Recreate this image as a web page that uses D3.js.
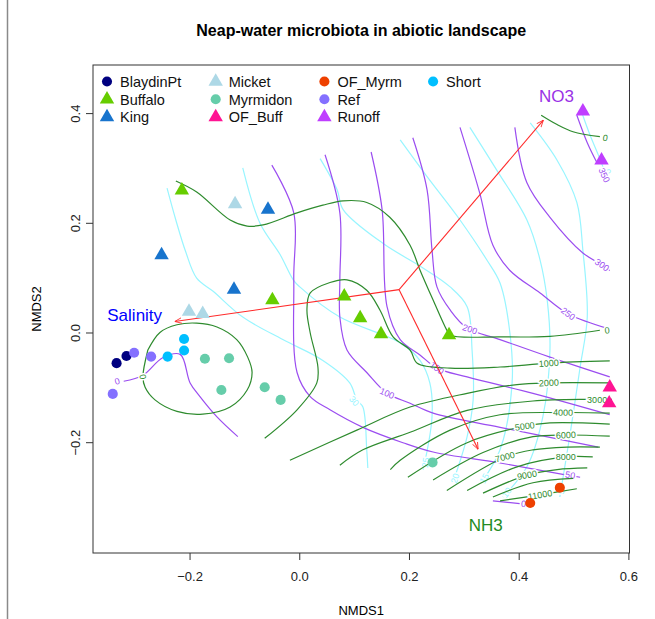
<!DOCTYPE html>
<html>
<head>
<meta charset="utf-8">
<script src="https://cdn.jsdelivr.net/npm/d3@7"></script>
<style>
  body { margin: 0; background: #fff; }
  text { font-family: "Liberation Sans", Arial, sans-serif; }
</style>
</head>
<body>
<div id="chart"></div>
<script>
// sites, colours and symbols (legend order)
const siteNames  = ["BlaydinPt", "Buffalo", "King", "Micket", "Myrmidon", "OF_Buff", "OF_Myrm", "Ref", "Runoff", "Short"];
const siteColors = ["#000080", "#66CD00", "#1874CD", "#ADD8E6", "#66CDAA", "#FF1493", "#EE4000", "#8470FF", "#BF3EFF", "#00BFFF"];
const siteShapes = ["circle", "triangle", "triangle", "triangle", "circle", "triangle", "circle", "circle", "triangle", "circle"];

// NMDS1, NMDS2 scores of each sample
const samples = [
    ["BlaydinPt", -0.333, -0.055], ["BlaydinPt", -0.315, -0.042],
    ["Ref", -0.301, -0.036], ["Ref", -0.270, -0.043], ["Ref", -0.340, -0.111],
    ["Short", -0.240, -0.043], ["Short", -0.210, -0.011], ["Short", -0.210, -0.032],
    ["Myrmidon", -0.172, -0.047], ["Myrmidon", -0.128, -0.046], ["Myrmidon", -0.142, -0.104],
    ["Myrmidon", -0.063, -0.099], ["Myrmidon", -0.034, -0.122], ["Myrmidon", 0.243, -0.236],
    ["Micket", -0.201, 0.039], ["Micket", -0.176, 0.035], ["Micket", -0.117, 0.235],
    ["King", -0.251, 0.142], ["King", -0.119, 0.079], ["King", -0.057, 0.225],
    ["Buffalo", -0.214, 0.260], ["Buffalo", -0.049, 0.060], ["Buffalo", 0.082, 0.067],
    ["Buffalo", 0.111, 0.027], ["Buffalo", 0.149, -0.002], ["Buffalo", 0.273, -0.004],
    ["OF_Buff", 0.566, -0.099], ["OF_Buff", 0.565, -0.128],
    ["OF_Myrm", 0.421, -0.310], ["OF_Myrm", 0.475, -0.282],
    ["Runoff", 0.517, 0.404], ["Runoff", 0.551, 0.315],
];

// fitted vectors
const arrowOrigin = [0.182, 0.079];
const arrowNames  = ["NO3", "NH3", "Salinity"];
const arrowEnds   = [[0.445, 0.388], [0.326, -0.212], [-0.227, 0.021]];
const arrowLabelAt = [[0.469, 0.432], [0.340, -0.351], [-0.300, 0.032]];
const arrowColors = ["#9A32E6", "#228B22", "#0000FF"];

// ordisurf contours: level, path, label position
const no3Contours = [
    { level: "0", pts: [[-0.320, -0.088], [-0.285, -0.077], [-0.249, -0.045], [-0.217, -0.039], [-0.199, -0.091], [-0.181, -0.116], [-0.150, -0.153], [-0.112, -0.189]], lab: [-0.332, -0.088] },
    { level: "0", pts: [[0.353, -0.306], [0.402, -0.311]], lab: [0.409, -0.311] },
    { level: "50", pts: [[-0.050, 0.306], [-0.010, 0.219], [-0.010, 0.097], [-0.004, -0.072], [0.020, -0.116], [0.056, -0.140], [0.116, -0.172], [0.189, -0.200], [0.244, -0.217], [0.366, -0.237], [0.488, -0.259], [0.512, -0.263]], lab: [0.494, -0.259] },
    { level: "100", pts: [[0.047, 0.325], [0.074, 0.219], [0.074, 0.097], [0.074, 0.029], [0.087, -0.031], [0.123, -0.072], [0.160, -0.110], [0.202, -0.128], [0.244, -0.146], [0.366, -0.172], [0.545, -0.208]], lab: [0.160, -0.110] },
    { level: "150", pts: [[0.131, 0.330], [0.151, 0.225], [0.160, 0.048], [0.184, -0.012], [0.220, -0.040], [0.251, -0.064], [0.306, -0.080], [0.426, -0.110], [0.566, -0.149]], lab: [0.251, -0.064] },
    { level: "200", pts: [[0.207, 0.356], [0.233, 0.261], [0.242, 0.151], [0.251, 0.084], [0.275, 0.042], [0.306, 0.009], [0.366, -0.012], [0.457, -0.044], [0.566, -0.080]], lab: [0.311, 0.007] },
    { level: "250", pts: [[0.293, 0.375], [0.329, 0.255], [0.353, 0.160], [0.384, 0.114], [0.439, 0.073], [0.490, 0.035], [0.566, 0.007]], lab: [0.490, 0.035] },
    { level: "300", pts: [[0.393, 0.375], [0.415, 0.274], [0.457, 0.211], [0.517, 0.146], [0.552, 0.124], [0.566, 0.114]], lab: [0.552, 0.124] },
    { level: "350", pts: [[0.506, 0.397], [0.525, 0.347], [0.543, 0.310]], lab: [0.556, 0.288] },
];

const nh3Contours = [
    { level: "0", pts: [[-0.225, 0.277], [-0.187, 0.257], [-0.126, 0.206], [-0.095, 0.195], [-0.066, 0.197], [-0.004, 0.219], [0.043, 0.233], [0.080, 0.241], [0.123, 0.238], [0.165, 0.211], [0.202, 0.160], [0.220, 0.115], [0.244, 0.060], [0.269, 0.005], [0.275, -0.004], [0.366, -0.007], [0.457, -0.006], [0.548, 0.005]], lab: [0.561, 0.005] },
    { level: "0", pts: [[-0.276, -0.031], [-0.254, 0.001], [-0.223, 0.015], [-0.187, 0.018], [-0.150, 0.011], [-0.114, -0.012], [-0.094, -0.044], [-0.086, -0.072], [-0.095, -0.104], [-0.126, -0.135], [-0.176, -0.148], [-0.223, -0.143], [-0.263, -0.122], [-0.281, -0.099], [-0.285, -0.080], [-0.276, -0.031]], lab: [-0.285, -0.080] },
    { level: "0", pts: [[0.441, 0.397], [0.470, 0.380], [0.499, 0.367], [0.548, 0.358]], lab: [0.558, 0.356] },
    { level: "1000", pts: [[-0.063, -0.192], [-0.004, -0.140], [0.032, -0.091], [0.034, -0.062], [0.020, 0.000], [0.014, 0.042], [0.020, 0.073], [0.056, 0.092], [0.087, 0.097], [0.123, 0.078], [0.147, 0.042], [0.171, -0.007], [0.202, -0.031], [0.215, -0.055], [0.275, -0.064], [0.366, -0.062], [0.455, -0.055], [0.566, -0.051]], lab: [0.455, -0.055] },
    { level: "2000", pts: [[-0.017, -0.232], [0.105, -0.177], [0.202, -0.135], [0.306, -0.110], [0.397, -0.094], [0.455, -0.091], [0.566, -0.091]], lab: [0.455, -0.091] },
    { level: "3000", pts: [[0.074, -0.241], [0.116, -0.213], [0.202, -0.181], [0.306, -0.141], [0.426, -0.124], [0.530, -0.121], [0.570, -0.121]], lab: [0.543, -0.121] },
    { level: "4000", pts: [[0.166, -0.249], [0.184, -0.232], [0.275, -0.177], [0.366, -0.149], [0.481, -0.145], [0.566, -0.146]], lab: [0.481, -0.145] },
    { level: "5000", pts: [[0.198, -0.263], [0.306, -0.200], [0.411, -0.170], [0.457, -0.164], [0.566, -0.166]], lab: [0.411, -0.170] },
    { level: "6000", pts: [[0.244, -0.268], [0.335, -0.218], [0.426, -0.189], [0.486, -0.186], [0.566, -0.188]], lab: [0.486, -0.186] },
    { level: "7000", pts: [[0.269, -0.287], [0.375, -0.226], [0.426, -0.213], [0.488, -0.208], [0.548, -0.208]], lab: [0.375, -0.226] },
    { level: "8000", pts: [[0.306, -0.287], [0.397, -0.244], [0.486, -0.226], [0.535, -0.226]], lab: [0.486, -0.226] },
    { level: "9000", pts: [[0.335, -0.292], [0.415, -0.259], [0.470, -0.249], [0.525, -0.246]], lab: [0.415, -0.259] },
    { level: "10000", pts: [[0.353, -0.299], [0.426, -0.273], [0.499, -0.265]], lab: null },
    { level: "11000", pts: [[0.366, -0.306], [0.439, -0.295], [0.506, -0.284]], lab: [0.439, -0.295] },
];

const salinityContours = [
    { level: "30", pts: [[-0.241, 0.264], [-0.225, 0.206], [-0.207, 0.148], [-0.187, 0.100], [-0.157, 0.076], [-0.103, 0.029], [-0.030, -0.012], [0.043, -0.050], [0.092, -0.091], [0.105, -0.122], [0.116, -0.135], [0.123, -0.213], [0.125, -0.246]], lab: [0.100, -0.124] },
    { level: "25", pts: [[-0.103, 0.301], [-0.072, 0.201], [-0.035, 0.143], [-0.011, 0.097], [0.001, 0.084], [0.074, 0.029], [0.184, -0.018], [0.220, -0.050], [0.238, -0.091], [0.242, -0.153], [0.226, -0.249]], lab: [0.230, -0.236] },
    { level: "20", pts: [[0.038, 0.318], [0.069, 0.261], [0.080, 0.225], [0.153, 0.163], [0.220, 0.122], [0.275, 0.084], [0.306, 0.048], [0.315, -0.031], [0.317, -0.122], [0.306, -0.189], [0.280, -0.273]], lab: [0.284, -0.265] },
    { level: "15", pts: [[0.184, 0.352], [0.233, 0.285], [0.293, 0.206], [0.342, 0.133], [0.366, 0.091], [0.384, 0.000], [0.388, -0.091], [0.366, -0.213], [0.333, -0.271]], lab: [0.337, -0.265] },
    { level: "10", pts: [[0.311, 0.375], [0.360, 0.297], [0.415, 0.206], [0.439, 0.133], [0.452, 0.060], [0.457, -0.031], [0.444, -0.153], [0.415, -0.244], [0.371, -0.299]], lab: [0.378, -0.291] },
    { level: "5", pts: [[0.421, 0.383], [0.470, 0.315], [0.506, 0.238], [0.517, 0.151], [0.525, 0.029], [0.512, -0.062], [0.494, -0.182], [0.475, -0.299]], lab: [0.477, -0.289] },
    { level: "0", pts: [[0.515, 0.402], [0.530, 0.361], [0.545, 0.325], [0.554, 0.302]], lab: [0.562, 0.294] },
];

const xTicks = [-0.2, 0.0, 0.2, 0.4, 0.6];
const yTicks = [-0.2, 0.0, 0.2, 0.4];

// dimensions
const width = 655, height = 619;
const plot = { left: 93, right: 629.5, top: 65, bottom: 553 };

const svg = d3.select("#chart")
    .append("svg")
    .attr("width", width)
    .attr("height", height);

// outer page edge on the left
svg.append("line")
    .attr("x1", 7.5).attr("x2", 7.5)
    .attr("y1", 0).attr("y2", height)
    .attr("stroke", "#8a8a8a")
    .attr("stroke-width", 1.5);

// equal aspect: same px per unit on both axes
const x = d3.scaleLinear().domain([-0.376, 0.602]).range([plot.left, plot.right]);
const y = d3.scaleLinear().domain([-0.4011, 0.4886]).range([plot.bottom, plot.top]);

// axes
const xAxis = svg.append("g")
    .attr("transform", "translate(0," + plot.bottom + ")")
    .call(d3.axisBottom(x).tickValues(xTicks).tickFormat(d3.format(".1f")).tickSize(7).tickPadding(12));
const yAxis = svg.append("g")
    .attr("transform", "translate(" + plot.left + ",0)")
    .call(d3.axisLeft(y).tickValues(yTicks).tickFormat(d3.format(".1f")).tickSize(7));
[xAxis, yAxis].forEach(g => {
    g.select(".domain").remove();
    g.selectAll("line").attr("stroke", "#333");
    g.selectAll("text").attr("font-size", 13).attr("fill", "#222")
        .style("font-family", "'Liberation Sans', Arial, sans-serif");
});
yAxis.selectAll("text")
    .attr("x", 0).attr("dy", 0)
    .attr("text-anchor", "middle")
    .attr("transform", d => "translate(-13," + y(d) + ") rotate(-90)")
    .attr("y", 0);
yAxis.selectAll(".tick").attr("transform", null);
yAxis.selectAll(".tick line").attr("y1", d => y(d)).attr("y2", d => y(d));

// frame
svg.append("rect")
    .attr("x", plot.left).attr("y", plot.top)
    .attr("width", plot.right - plot.left).attr("height", plot.bottom - plot.top)
    .attr("fill", "none").attr("stroke", "#333");

// titles
svg.append("text")
    .attr("x", (plot.left + plot.right) / 2).attr("y", 36)
    .attr("text-anchor", "middle")
    .attr("font-size", 16).attr("font-weight", "bold")
    .text("Neap-water microbiota in abiotic landscape");
svg.append("text")
    .attr("x", (plot.left + plot.right) / 2).attr("y", 615)
    .attr("text-anchor", "middle").attr("font-size", 13)
    .text("NMDS1");
svg.append("text")
    .attr("transform", "translate(41," + (plot.top + plot.bottom) / 2 + ") rotate(-90)")
    .attr("text-anchor", "middle").attr("font-size", 13)
    .text("NMDS2");

const area = svg.append("g");
const line = d3.line().x(d => x(d[0])).y(d => y(d[1])).curve(d3.curveCatmullRom.alpha(0.5));

// angle of the contour near its label, in screen space
function labelAngle(pts, p) {
    let best = 0, bestD = Infinity;
    for (let i = 0; i < pts.length - 1; i++) {
        const mx = (x(pts[i][0]) + x(pts[i + 1][0])) / 2, my = (y(pts[i][1]) + y(pts[i + 1][1])) / 2;
        const dd = (mx - x(p[0])) ** 2 + (my - y(p[1])) ** 2;
        if (dd < bestD) { bestD = dd; best = i; }
    }
    let a = Math.atan2(y(pts[best + 1][1]) - y(pts[best][1]), x(pts[best + 1][0]) - x(pts[best][0])) * 180 / Math.PI;
    if (a > 90) a -= 180;
    if (a < -90) a += 180;
    return a;
}

function drawContours(contours, color) {
    area.append("g").selectAll("path")
        .data(contours)
        .enter()
        .append("path")
        .attr("d", d => line(d.pts))
        .attr("fill", "none")
        .attr("stroke", color)
        .attr("stroke-width", 1.2);
    area.append("g").selectAll("text")
        .data(contours.filter(d => d.lab))
        .enter()
        .append("text")
        .attr("transform", d => "translate(" + x(d.lab[0]) + "," + y(d.lab[1]) + ") rotate(" + labelAngle(d.pts, d.lab) + ")")
        .attr("text-anchor", "middle")
        .attr("dy", "0.35em")
        .attr("font-size", 9)
        .attr("fill", color)
        .attr("stroke", "white").attr("stroke-width", 3)
        .attr("paint-order", "stroke")
        .text(d => d.level);
}

drawContours(salinityContours, "#98F5FF");
drawContours(no3Contours, "#9B4DF0");
drawContours(nh3Contours, "#2E8B2E");

// env arrows
svg.append("defs").append("marker")
    .attr("id", "head")
    .attr("viewBox", "0 -5 10 10")
    .attr("refX", 10).attr("refY", 0)
    .attr("markerWidth", 7).attr("markerHeight", 7)
    .attr("markerUnits", "userSpaceOnUse")
    .attr("orient", "auto")
    .append("path")
    .attr("d", "M0,-4L10,0L0,4")
    .attr("fill", "none")
    .attr("stroke", "#FF2A2A")
    .attr("stroke-width", 1.2);

svg.append("g").selectAll("line")
    .data(arrowEnds)
    .enter()
    .append("line")
    .attr("x1", x(arrowOrigin[0])).attr("y1", y(arrowOrigin[1]))
    .attr("x2", d => x(d[0])).attr("y2", d => y(d[1]))
    .attr("stroke", "#FF2A2A")
    .attr("stroke-width", 1.1)
    .attr("marker-end", "url(#head)");

svg.append("g").selectAll("text")
    .data(arrowNames)
    .enter()
    .append("text")
    .attr("x", (d, i) => x(arrowLabelAt[i][0]))
    .attr("y", (d, i) => y(arrowLabelAt[i][1]))
    .attr("dy", "0.35em")
    .attr("text-anchor", "middle")
    .attr("font-size", 17)
    .attr("fill", (d, i) => arrowColors[i])
    .text(d => d);

// sample points
const symbolFor = name => siteShapes[siteNames.indexOf(name)] === "triangle"
    ? d3.symbol().type(d3.symbolTriangle).size(90)()
    : d3.symbol().type(d3.symbolCircle).size(80)();

svg.append("g").selectAll("path")
    .data(samples)
    .enter()
    .append("path")
    .attr("d", d => symbolFor(d[0]))
    .attr("transform", d => "translate(" + x(d[1]) + "," + y(d[2]) + ")")
    .attr("fill", d => siteColors[siteNames.indexOf(d[0])]);

// legend, 3 rows per column
const legend = svg.append("g").attr("transform", "translate(107,81.5)");
const items = legend.selectAll("g")
    .data(siteNames)
    .enter()
    .append("g")
    .attr("transform", (d, i) => "translate(" + Math.floor(i / 3) * 108.7 + "," + (i % 3) * 17.8 + ")");
items.append("path")
    .attr("d", d => symbolFor(d))
    .attr("fill", (d, i) => siteColors[i]);
items.append("text")
    .attr("x", 13).attr("dy", "0.36em")
    .attr("font-size", 14.5)
    .attr("fill", "#111")
    .text(d => d);
</script>
</body>
</html>
